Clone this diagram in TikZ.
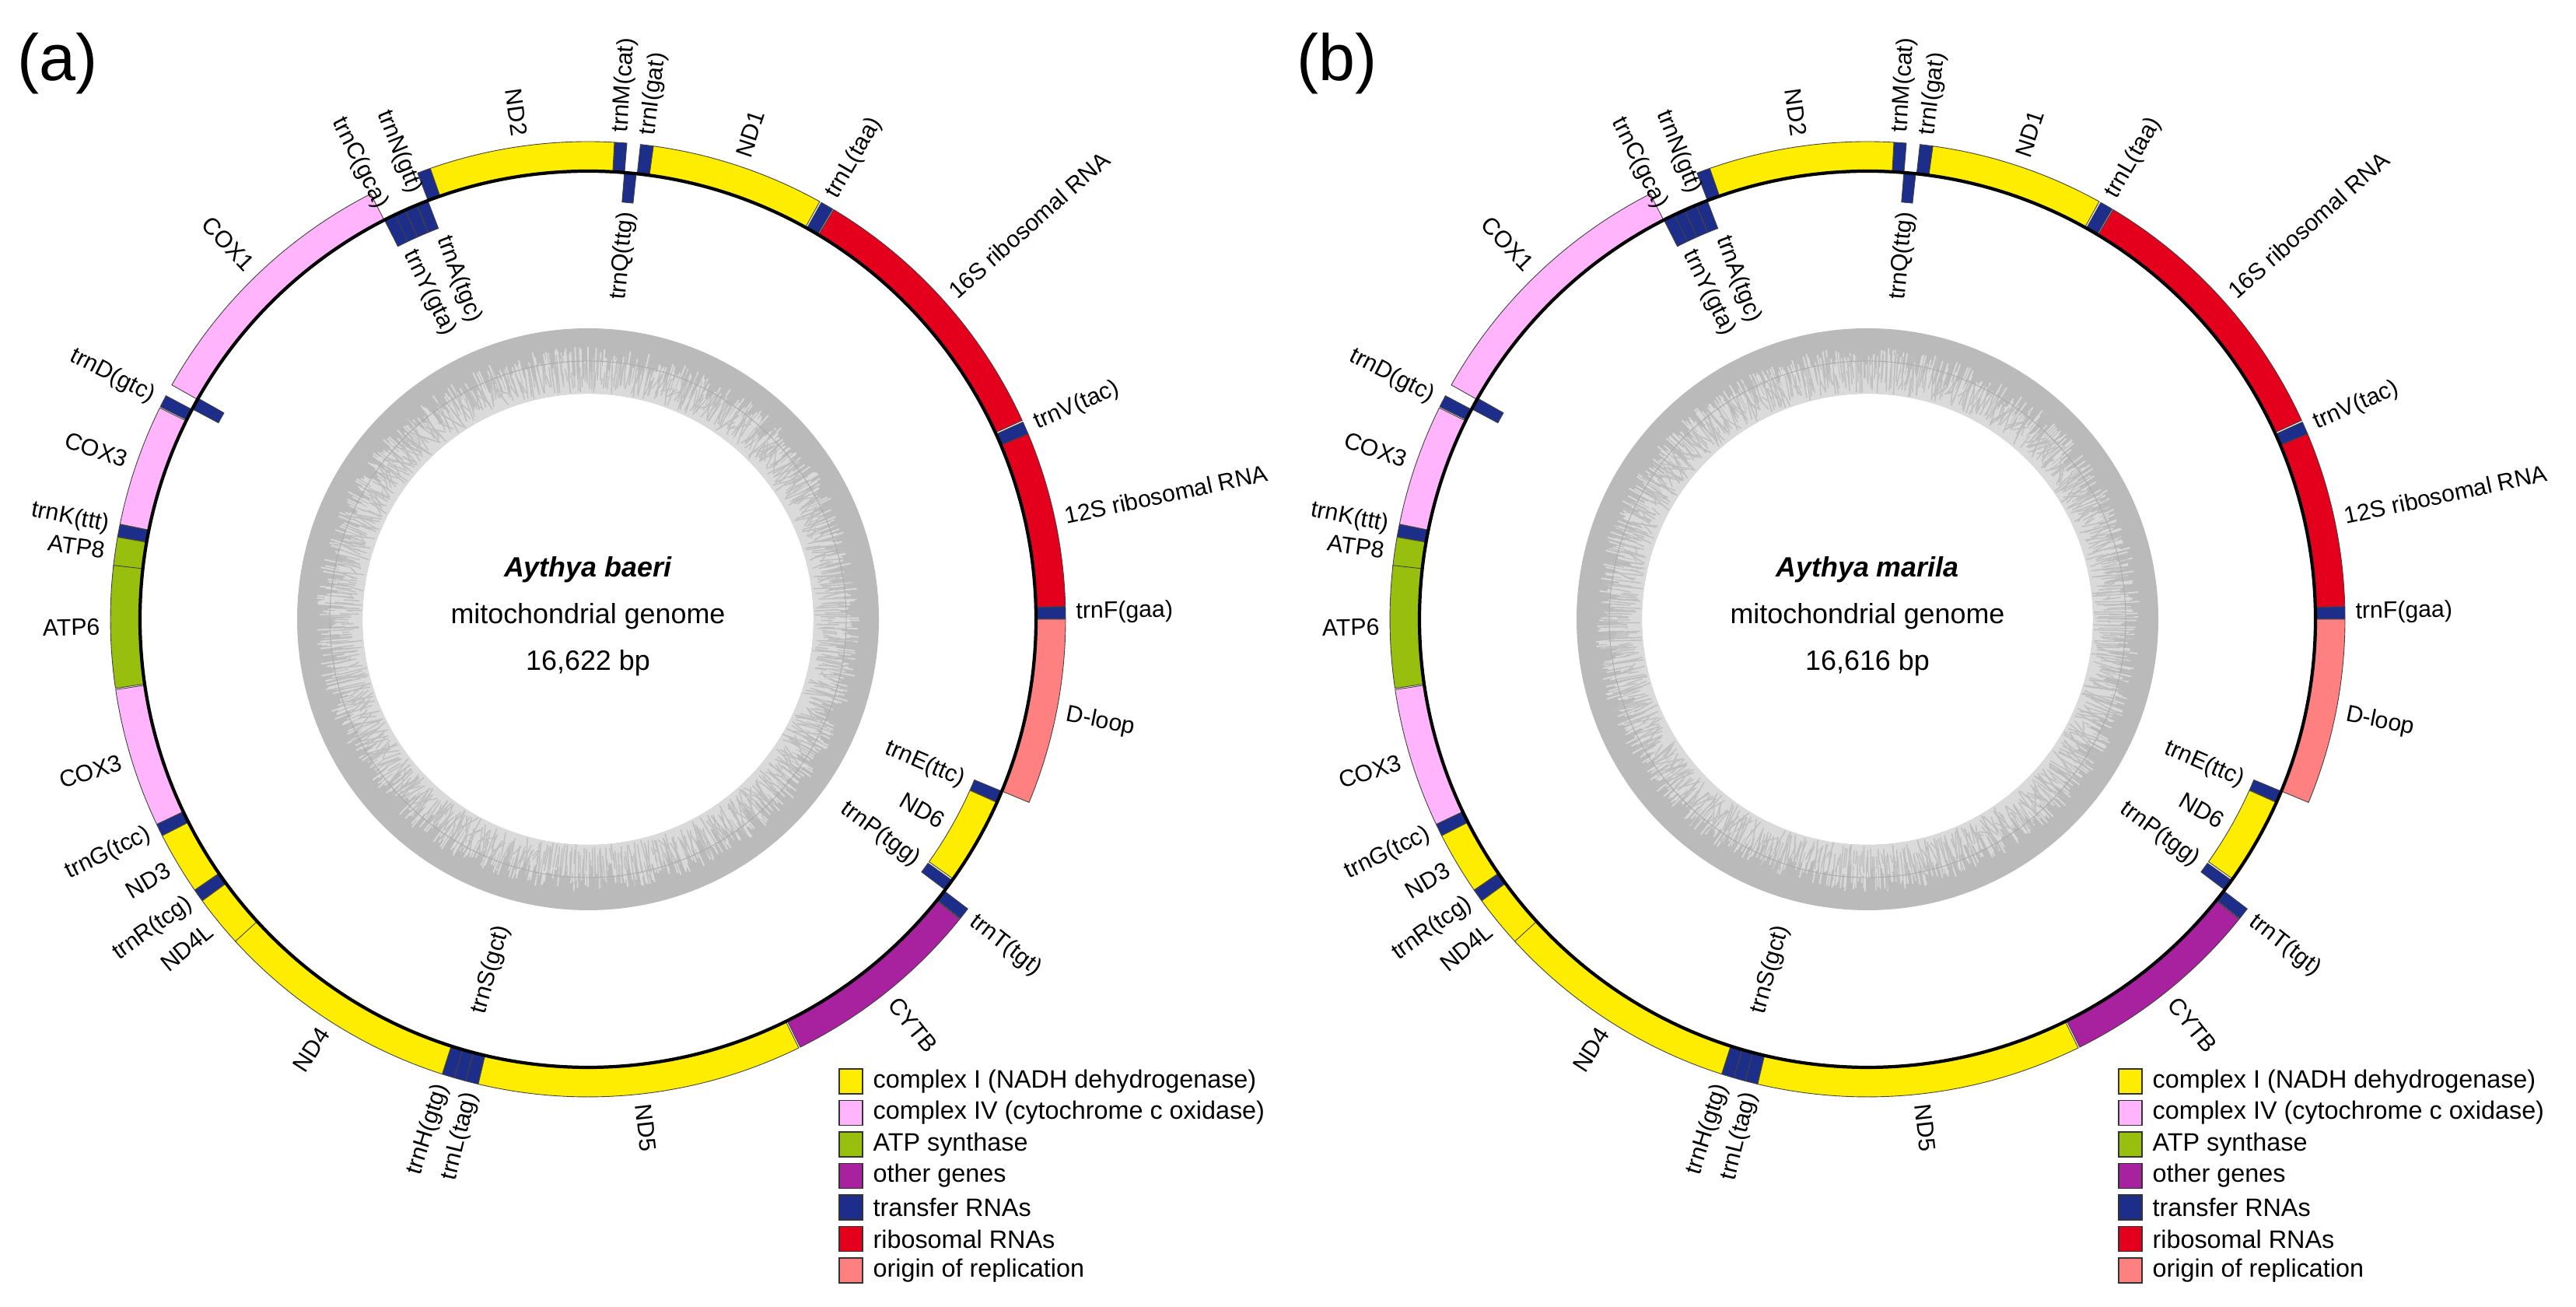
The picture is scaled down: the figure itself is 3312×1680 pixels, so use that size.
\documentclass[tikz,border=0pt]{standalone}
\usepackage{fontspec}
\setmainfont{Liberation Sans}
\usetikzlibrary{positioning}

\definecolor{cplxone}{RGB}{255,237,0}
\definecolor{cplxfour}{RGB}{255,180,252}
\definecolor{atpsyn}{RGB}{152,190,14}
\definecolor{othergene}{RGB}{168,34,160}
\definecolor{trna}{RGB}{28,46,138}
\definecolor{rrna}{RGB}{228,0,28}
\definecolor{orirep}{RGB}{255,128,128}
\definecolor{gcdark}{RGB}{186,186,186}
\definecolor{gcmid}{RGB}{190,190,190}
\definecolor{gclight}{RGB}{218,218,218}
\definecolor{gcline}{RGB}{170,170,170}

\tikzset{
  genebox/.style={draw=black!75,line width=0.25pt},
  genelab/.style={inner sep=0pt,font=\fontsize{8.6}{10}\selectfont},
  swatch/.style={draw=black!80,line width=0.5pt,minimum width=0.3cm,minimum height=0.32cm,inner sep=0pt},
  legtext/.style={inner sep=0pt,anchor=west,font=\fontsize{9.2}{11}\selectfont},
  centertext/.style={inner sep=0pt,anchor=base,font=\fontsize{10.2}{12}\selectfont},
  panellab/.style={inner sep=0pt,anchor=base west,font=\fontsize{24}{28}\selectfont}
}

% one genome map at the origin: #1 prefix, #2 species, #3 length
\newcommand\drawmito[3]{
  % GC content ring
  \fill[gcdark,even odd rule] (0,0) circle[radius=374] (0,0) circle[radius=290];
  \foreach \k in {0,...,1439}{
    \pgfmathsetmacro\gang{\k/4}
    \pgfmathsetmacro\glen{290+84*(0.22+0.5*rnd)}
    \draw[gclight,line width=0.5pt] (\gang:290) -- (\gang:\glen);
  }
  \foreach \k in {0,...,719}{
    \pgfmathsetmacro\gang{\k*0.5+0.4*rnd}
    \draw[gcmid,line width=0.4pt] (\gang:{290+20*rnd}) -- (\gang:{310+40*rnd});
  }
  \draw[gcline,line width=0.25pt] (0,0) circle[radius=332];
  % genes, start/end angle, colour, outer radius
  \foreach \aa/\ab/\gcol/\grad in {
      0.02/1.52/trna/614, 1.54/22.85/rrna/614, 22.87/24.39/trna/614, 24.60/59.04/rrna/614,
      59.17/60.75/trna/614, 60.97/82.13/cplxone/614, 82.15/83.69/trna/614, 83.82/85.33/trna/538,
      85.33/86.80/trna/614, 86.83/109.31/cplxone/614, 109.29/110.91/trna/614, 110.95/112.43/trna/538,
      112.49/114.05/trna/538, 114.09/115.50/trna/538, 115.50/117.02/trna/538, 117.06/150.63/cplxfour/614,
      150.46/152.02/trna/538, 152.10/153.58/trna/614, 153.73/168.52/cplxfour/614, 168.56/170.06/trna/614,
      170.10/173.72/atpsyn/614, 173.52/188.31/atpsyn/614, 188.47/205.43/cplxfour/614, 205.45/206.92/trna/614,
      206.94/214.54/cplxone/614, 214.59/216.08/trna/614, 216.12/222.54/cplxone/614, 222.40/252.23/cplxone/614,
      252.25/253.74/trna/614, 253.77/255.15/trna/614, 255.18/256.69/trna/614, 256.71/296.19/cplxone/614,
      296.39/321.12/othergene/614, 321.21/322.68/trna/614, 322.86/324.35/trna/538, 324.59/335.87/cplxone/538,
      335.94/337.43/trna/538, 337.45/360/orirep/614}{
    \filldraw[genebox,fill=\gcol] (\aa:576) arc[start angle=\aa,end angle=\ab,radius=576]
      -- (\ab:\grad) arc[start angle=\ab,end angle=\aa,radius=\grad] -- cycle;
  }
  \draw[line width=1.2pt] (0,0) circle[radius=576];
  % gene names
  \foreach \gang/\grad/\txt [count=\n] in {
      0.8/627/trnF(gaa), 12.2/627/12S ribosomal RNA, 23.6/627/trnV(tac),
      41.8/627/16S ribosomal RNA, 60.0/627/trnL(taa), 71.5/627/ND1,
      82.9/627/trnI(gat), 86.1/627/trnM(cat), 84.5/526/trnQ(ttg),
      98.0/627/ND2, 112.0/592/trnN(gtt), 116.6/592/trnC(gca),
      110.8/526/trnA(tgc), 115.9/526/trnY(gta), 133.8/627/COX1,
      152.9/627/trnD(gtc), 161.0/627/COX3, 168.9/627/trnK(ttt),
      171.9/627/ATP8, 180.9/627/ATP6, 197.0/627/COX3,
      206.0/627/trnG(tcc), 210.7/627/ND3, 215.4/627/trnR(tcg),
      219.3/627/ND4L, 237.3/627/ND4, 252.6/627/trnH(gtg),
      256.1/627/trnL(tag), 254.5/526/trnS(gct), 276.5/627/ND5,
      308.7/627/CYTB, 322.0/627/trnT(tgt), 323.7/526/trnP(tgg),
      330.2/526/ND6, 336.7/526/trnE(ttc), 348.7/627/D-loop}{
    \pgfmathtruncatemacro\rgt{(\gang<90) || (\gang>270)}
    \pgfmathtruncatemacro\isout{\grad>576}
    \pgfmathsetmacro\labrot{\rgt==1 ? \gang : \gang-180}
    \ifnum\rgt=\isout \def\anc{west}\else\def\anc{east}\fi
    \node[genelab,anchor=\anc,rotate=\labrot] (#1-lab\n) at (\gang:\grad) {\txt};
  }
  % centre
  \node[centertext] (#1-name) at (0,54) {\textbf{\textit{#2}}};
  \node[centertext] (#1-kind) at (0,-6) {mitochondrial genome};
  \node[centertext] (#1-size) at (0,-66) {#3 bp};
  % legend
  \foreach \gcol/\txt [count=\n] in {
      cplxone/complex I (NADH dehydrogenase),
      cplxfour/complex IV (cytochrome c oxidase),
      atpsyn/ATP synthase, othergene/other genes,
      trna/transfer RNAs, rrna/ribosomal RNAs, orirep/origin of replication}{
    \node[swatch,fill=\gcol] (#1-key\n) at (338,{-594-40.5*(\n-1)}) {};
    \node[legtext,right=0.12cm of #1-key\n] (#1-keytxt\n) {\txt};
  }
}

\begin{document}
\begin{tikzpicture}[x=0.01cm,y=0.01cm]
\useasboundingbox (0,0) rectangle (3312,1680);

\node[panellab] (lab-a) at (22,1576) {(a)};
\node[panellab] (lab-b) at (1667,1576) {(b)};

\begin{scope}[shift={(756,884)}]
  \pgfmathsetseed{11}
  \drawmito{a}{Aythya baeri}{16,622}
\end{scope}

\begin{scope}[shift={(2401,884)}]
  \pgfmathsetseed{23}
  \drawmito{b}{Aythya marila}{16,616}
\end{scope}
\end{tikzpicture}
\end{document}
